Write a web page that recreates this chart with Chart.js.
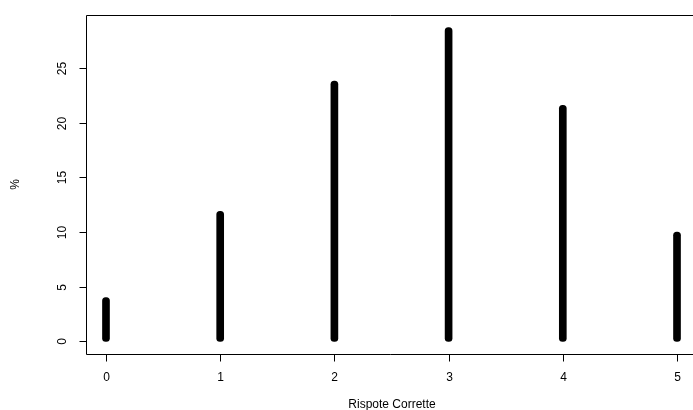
<!DOCTYPE html>
<html>
<head>
<meta charset="utf-8">
<script src="https://cdn.jsdelivr.net/npm/chart.js@4"></script>
<style>
  html, body { margin: 0; padding: 0; background: #fff; overflow: hidden; }
  #wrap { width: 693px; height: 410px; }
</style>
</head>
<body>
<div id="wrap"><canvas id="myChart" width="693" height="410"></canvas></div>
<script>
// data
var categories = [0, 1, 2, 3, 4, 5];
var percents = [4.0, 11.9, 23.8, 28.7, 21.6, 10.0];
var yTicks = [0, 5, 10, 15, 20, 25];
var xTitle = "Rispote Corrette";
var yTitle = "%";

var FONT = "12px 'Liberation Sans', Arial, sans-serif";

// R-style axes drawn from the chart's own scales
var rAxes = {
  id: 'rAxes',
  afterDraw: function (chart) {
    var ctx = chart.ctx;
    var area = chart.chartArea;
    var xs = chart.scales.x;
    var ys = chart.scales.y;
    ctx.save();
    ctx.strokeStyle = '#000';
    ctx.fillStyle = '#000';
    ctx.lineWidth = 1;

    // box (right edge falls outside the window)
    var l = Math.round(area.left) + 0.5;
    var t = Math.round(area.top) + 0.5;
    var b = Math.round(area.bottom) + 0.5;
    ctx.beginPath();
    ctx.moveTo(area.right + 2, t);
    ctx.lineTo(l, t);
    ctx.lineTo(l, b);
    ctx.lineTo(area.right + 2, b);
    ctx.stroke();

    ctx.font = FONT;

    // x axis
    ctx.textAlign = 'center';
    ctx.textBaseline = 'middle';
    categories.forEach(function (c) {
      var px = Math.round(xs.getPixelForValue(c)) + 0.5;
      ctx.beginPath();
      ctx.moveTo(px, b);
      ctx.lineTo(px, b + 7);
      ctx.stroke();
      ctx.fillText(String(c), px, 378);
    });
    ctx.fillText(xTitle, 392, 405);

    // y axis
    yTicks.forEach(function (v) {
      var py = Math.round(ys.getPixelForValue(v)) + 0.5;
      ctx.beginPath();
      ctx.moveTo(l, py);
      ctx.lineTo(l - 7, py);
      ctx.stroke();
      ctx.save();
      ctx.translate(63, py);
      ctx.rotate(-Math.PI / 2);
      ctx.fillText(String(v), 0, 0);
      ctx.restore();
    });
    ctx.save();
    ctx.translate(16, (area.top + area.bottom) / 2);
    ctx.rotate(-Math.PI / 2);
    ctx.fillText(yTitle, 0, 0);
    ctx.restore();

    ctx.restore();
  }
};

new Chart(document.getElementById('myChart'), {
  type: 'bar',
  data: {
    datasets: [{
      data: categories.map(function (c, i) { return { x: c, y: [0, percents[i]] }; }),
      backgroundColor: '#000',
      borderWidth: 0,
      borderRadius: 4,
      borderSkipped: false,
      barThickness: 7
    }]
  },
  options: {
    responsive: false,
    animation: false,
    layout: { padding: { left: 86, top: 15, right: 0, bottom: 56 } },
    plugins: { legend: { display: false }, tooltip: { enabled: false } },
    scales: {
      x: { type: 'linear', min: -0.175, max: 5.14, offset: false, display: false },
      y: { type: 'linear', min: -1.148, max: 29.848, display: false }
    }
  },
  plugins: [rAxes]
});
</script>
</body>
</html>
